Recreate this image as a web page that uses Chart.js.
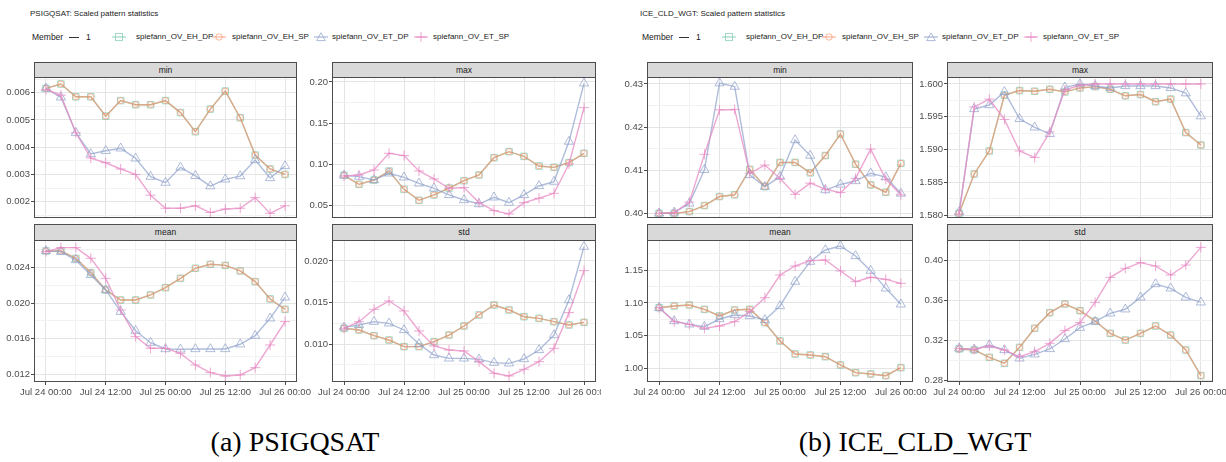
<!DOCTYPE html>
<html>
<head>
<meta charset="utf-8">
<script src="https://cdn.jsdelivr.net/npm/chart.js@4.4.1/dist/chart.umd.min.js"></script>
<style>
    body { margin: 0; background: #fff; width: 1226px; height: 462px; overflow: hidden; position: relative;
           font-family: 'Liberation Sans', Arial, sans-serif; }
    .panel { position: absolute; top: 0; height: 462px; overflow: hidden; }
    .txt { position: absolute; white-space: nowrap; color: #1a1a1a; }
    .strip { position: absolute; background: #d9d9d9; border: 1px solid #4d4d4d; box-sizing: border-box;
             font-size: 8.5px; color: #1a1a1a; text-align: center; }
    .caption { position: absolute; width: 400px; text-align: center; font-family: 'Liberation Serif', 'Times New Roman', serif;
               font-size: 28px; line-height: 28px; color: #000; }
    canvas { position: absolute; display: block; }
    svg { position: absolute; }
</style>
</head>
<body>
<div id="left" class="panel" style="left:0;width:601px"></div>
<div id="right" class="panel" style="left:604px;width:622px"></div>
<script>
// ===============================
// == DATA
// ===============================
const hours = [0, 3, 6, 9, 12, 15, 18, 21, 24, 27, 30, 33, 36, 39, 42, 45, 48];
const timeTicks = [0, 12, 24, 36, 48];
const timeLabels = ['Jul 24 00:00', 'Jul 24 12:00', 'Jul 25 00:00', 'Jul 25 12:00', 'Jul 26 00:00'];
const seriesNames = ['spiefann_OV_EH_DP', 'spiefann_OV_EH_SP', 'spiefann_OV_ET_DP', 'spiefann_OV_ET_SP'];

// PSIGQSAT (EH_DP and EH_SP coincide)
const psMinEH   = [0.00616, 0.00632, 0.00585, 0.00585, 0.00514, 0.00571, 0.00556, 0.00556, 0.00571, 0.00527, 0.00457, 0.00540, 0.00606, 0.00508, 0.00371, 0.00320, 0.00300];
const psMinETDP = [0.00616, 0.00583, 0.00453, 0.00375, 0.00387, 0.00396, 0.00359, 0.00292, 0.00270, 0.00326, 0.00295, 0.00257, 0.00282, 0.00294, 0.00353, 0.00287, 0.00331];
const psMinETSP = [0.00612, 0.00591, 0.00453, 0.00360, 0.00343, 0.00320, 0.00300, 0.00224, 0.00176, 0.00176, 0.00185, 0.00160, 0.00173, 0.00176, 0.00215, 0.00157, 0.00185];

const psMaxEH   = [0.0868, 0.0759, 0.0811, 0.0920, 0.0698, 0.0565, 0.0630, 0.0714, 0.0803, 0.0872, 0.1082, 0.1155, 0.1098, 0.0981, 0.0965, 0.1022, 0.1135];
const psMaxETDP = [0.0868, 0.0852, 0.0811, 0.0892, 0.0844, 0.0771, 0.0710, 0.0630, 0.0569, 0.0520, 0.0601, 0.0537, 0.0630, 0.0739, 0.0792, 0.1277, 0.1984];
const psMaxETSP = [0.0860, 0.0872, 0.0933, 0.1135, 0.1107, 0.0921, 0.0824, 0.0711, 0.0719, 0.0537, 0.0440, 0.0400, 0.0537, 0.0590, 0.0650, 0.1006, 0.1689];

const psMeanEH   = [0.02588, 0.02588, 0.02505, 0.02344, 0.02149, 0.02036, 0.02036, 0.02093, 0.02175, 0.02280, 0.02393, 0.02438, 0.02426, 0.02363, 0.02243, 0.02048, 0.01931];
const psMeanETDP = [0.02588, 0.02580, 0.02486, 0.02318, 0.02149, 0.01905, 0.01691, 0.01556, 0.01485, 0.01481, 0.01485, 0.01485, 0.01485, 0.01538, 0.01635, 0.01830, 0.02066];
const psMeanETSP = [0.02580, 0.02625, 0.02625, 0.02505, 0.02280, 0.01924, 0.01624, 0.01493, 0.01493, 0.01436, 0.01305, 0.01219, 0.01181, 0.01193, 0.01275, 0.01530, 0.01793];

const psStdEH   = [0.01189, 0.01169, 0.01100, 0.01048, 0.00968, 0.00968, 0.01028, 0.01108, 0.01217, 0.01350, 0.01470, 0.01410, 0.01329, 0.01309, 0.01269, 0.01229, 0.01261];
const psStdETDP = [0.01201, 0.01229, 0.01269, 0.01249, 0.01169, 0.01000, 0.00867, 0.00827, 0.00827, 0.00815, 0.00775, 0.00767, 0.00819, 0.00928, 0.01108, 0.01530, 0.02173];
const psStdETSP = [0.01189, 0.01269, 0.01418, 0.01518, 0.01398, 0.01157, 0.00976, 0.00928, 0.00916, 0.00787, 0.00647, 0.00615, 0.00695, 0.00787, 0.00948, 0.01378, 0.01884];

// ICE_CLD_WGT
const icMinEH   = [0.4000, 0.4000, 0.4004, 0.4018, 0.4039, 0.4043, 0.4102, 0.4062, 0.4118, 0.4118, 0.4094, 0.4134, 0.4184, 0.4114, 0.4066, 0.4049, 0.4116];
const icMinETDP = [0.4000, 0.4002, 0.4023, 0.4101, 0.4302, 0.4294, 0.4089, 0.4062, 0.4085, 0.4170, 0.4134, 0.4054, 0.4067, 0.4075, 0.4093, 0.4084, 0.4046];
const icMinETSP = [0.4000, 0.4002, 0.4026, 0.4137, 0.4240, 0.4241, 0.4093, 0.4112, 0.4081, 0.4044, 0.4070, 0.4056, 0.4048, 0.4081, 0.4149, 0.4079, 0.4043];

const icMaxEH   = [1.5803, 1.5863, 1.5898, 1.5983, 1.5990, 1.5989, 1.5992, 1.5988, 1.5994, 1.5996, 1.5992, 1.5982, 1.5984, 1.5973, 1.5977, 1.5926, 1.5907];
const icMaxETDP = [1.5805, 1.5962, 1.5968, 1.5988, 1.5947, 1.5934, 1.5924, 1.5995, 1.6000, 1.5997, 1.5994, 1.5997, 1.5997, 1.5997, 1.5994, 1.5986, 1.5951];
const icMaxETSP = [1.5802, 1.5965, 1.5977, 1.5946, 1.5898, 1.5888, 1.5927, 1.5991, 1.5998, 1.6000, 1.6000, 1.6000, 1.6000, 1.6000, 1.6000, 1.6000, 1.6000];

const icMeanEH   = [1.0927, 1.0953, 1.0968, 1.0902, 1.0801, 1.0892, 1.0902, 1.0699, 1.0421, 1.0223, 1.0208, 1.0182, 1.0056, 0.9939, 0.9919, 0.9893, 1.0015];
const icMeanETDP = [1.0927, 1.0725, 1.0674, 1.0638, 1.0755, 1.0816, 1.0801, 1.0740, 1.0953, 1.1323, 1.1627, 1.1804, 1.1865, 1.1713, 1.1490, 1.1221, 1.0978];
const icMeanETSP = [1.0927, 1.0714, 1.0674, 1.0613, 1.0649, 1.0714, 1.0867, 1.1079, 1.1424, 1.1561, 1.1642, 1.1652, 1.1485, 1.1323, 1.1389, 1.1358, 1.1297];

const icStdEH   = [0.3112, 0.3102, 0.3028, 0.2968, 0.3128, 0.3320, 0.3477, 0.3564, 0.3497, 0.3393, 0.3269, 0.3202, 0.3269, 0.3343, 0.3252, 0.3102, 0.2844];
const icStdETDP = [0.3118, 0.3108, 0.3152, 0.3102, 0.3018, 0.3058, 0.3112, 0.3212, 0.3326, 0.3387, 0.3470, 0.3511, 0.3631, 0.3765, 0.3722, 0.3631, 0.3581];
const icStdETSP = [0.3118, 0.3108, 0.3142, 0.3102, 0.3035, 0.3085, 0.3169, 0.3296, 0.3377, 0.3581, 0.3832, 0.3923, 0.3980, 0.3946, 0.3856, 0.3956, 0.4134];

// y tick labels per facet
const psMinTicks  = [0.002, 0.003, 0.004, 0.005, 0.006];
const psMaxTicks  = [0.05, 0.10, 0.15, 0.20];
const psMeanTicks = [0.012, 0.016, 0.020, 0.024];
const psStdTicks  = [0.010, 0.015, 0.020];
const icMinTicks  = [0.40, 0.41, 0.42, 0.43];
const icMaxTicks  = [1.580, 1.585, 1.590, 1.595, 1.600];
const icMeanTicks = [1.00, 1.05, 1.10, 1.15];
const icStdTicks  = [0.28, 0.32, 0.36, 0.40];

// ===============================
// == STYLE / LAYOUT
// ===============================
const COLORS = ['rgba(102,194,165,0.6)', 'rgba(252,141,98,0.62)', 'rgba(141,160,203,0.7)', 'rgba(231,138,195,0.75)'];
const SHAPES = ['rect', 'circle', 'triangle', 'cross'];
const RADII = [4.6, 3, 5.3, 5];
const TICK_FONT = { family: 'Liberation Sans', size: 9.5 };
const ROWS = [{ stripTop: 62, top: 77, bottom: 218 }, { stripTop: 224, top: 240, bottom: 382 }];
const Y_AXIS_W = 40, PAD_R = 24;

const panels = [
    {
        el: 'left', x0: 0, legendX: 0,
        title: 'PSIGQSAT: Scaled pattern statistics', caption: '(a) PSIGQSAT', capX: 295,
        facets: [
            { name: 'min',  L: 34,  R: 297, row: 0, yMin: 0.001402, yMax: 0.006576, ticks: psMinTicks,  dec: 3, data: [psMinEH, psMinEH, psMinETDP, psMinETSP] },
            { name: 'max',  L: 332, R: 596, row: 0, yMin: 0.03504,  yMax: 0.20606,  ticks: psMaxTicks,  dec: 2, data: [psMaxEH, psMaxEH, psMaxETDP, psMaxETSP] },
            { name: 'mean', L: 34,  R: 297, row: 1, yMin: 0.011137, yMax: 0.027112, ticks: psMeanTicks, dec: 3, data: [psMeanEH, psMeanEH, psMeanETDP, psMeanETSP] },
            { name: 'std',  L: 332, R: 596, row: 1, yMin: 0.005422, yMax: 0.02253,  ticks: psStdTicks,  dec: 3, data: [psStdEH, psStdEH, psStdETDP, psStdETSP] }
        ]
    },
    {
        el: 'right', x0: 604, legendX: 610,
        title: 'ICE_CLD_WGT: Scaled pattern statistics', caption: '(b) ICE_CLD_WGT', capX: 915,
        facets: [
            { name: 'min',  L: 647, R: 913,  row: 0, yMin: 0.39892,  yMax: 0.43162,  ticks: icMinTicks,  dec: 2, data: [icMinEH, icMinEH, icMinETDP, icMinETSP] },
            { name: 'max',  L: 947, R: 1213, row: 0, yMin: 1.579593, yMax: 1.601066, ticks: icMaxTicks,  dec: 3, data: [icMaxEH, icMaxEH, icMaxETDP, icMaxETSP] },
            { name: 'mean', L: 647, R: 913,  row: 1, yMin: 0.97973,  yMax: 1.19561,  ticks: icMeanTicks, dec: 2, data: [icMeanEH, icMeanEH, icMeanETDP, icMeanETSP] },
            { name: 'std',  L: 947, R: 1213, row: 1, yMin: 0.27799,  yMax: 0.42078,  ticks: icStdTicks,  dec: 2, data: [icStdEH, icStdEH, icStdETDP, icStdETSP] }
        ]
    }
];

// ===============================
// == HELPERS
// ===============================
function addText(parent, text, x, yMid, size, cls) {
    const d = document.createElement('div');
    d.className = cls || 'txt';
    d.textContent = text;
    d.style.left = x + 'px';
    d.style.top = (yMid - size * 0.6) + 'px';
    d.style.fontSize = size + 'px';
    d.style.lineHeight = (size * 1.2) + 'px';
    parent.appendChild(d);
    return d;
}

function keySvg(i) {
    const c = COLORS[i];
    let mark = '';
    if (i === 0) mark = `<rect x="3.5" y="1.5" width="7" height="7" fill="none" stroke="${c}"/>`;
    if (i === 1) mark = `<circle cx="7" cy="5" r="3.2" fill="none" stroke="${c}"/>`;
    if (i === 2) mark = `<polygon points="7,0.8 11.3,8.6 2.7,8.6" fill="none" stroke="${c}"/>`;
    if (i === 3) mark = `<path d="M2 5 H12 M7 0 V10" stroke="${c}"/>`;
    return `<svg width="14" height="10" viewBox="0 0 14 10"><line x1="0" y1="5" x2="14" y2="5" stroke="${c}" stroke-width="1.3"/>${mark}</svg>`;
}

function minorsOf(majors, lo, hi) {
    const step = majors[1] - majors[0];
    const out = [];
    for (let v = majors[0] - step / 2; v <= hi + 1e-12; v += step) {
        if (v >= lo - 1e-12) out.push(+v.toFixed(6));
    }
    return out;
}

const panelBorder = {
    id: 'panelBorder',
    afterDatasetsDraw(chart) {
        const a = chart.chartArea, ctx = chart.ctx;
        ctx.save();
        ctx.strokeStyle = '#4d4d4d';
        ctx.lineWidth = 1;
        ctx.strokeRect(Math.round(a.left) + 0.5, Math.round(a.top) + 0.5,
                       Math.round(a.right - a.left) - 1, Math.round(a.bottom - a.top) - 1);
        ctx.restore();
    }
};

// ===============================
// == FACET
// ===============================
function drawFacet(panel, parent, f) {
    const row = ROWS[f.row];
    const showX = f.row === 1;

    // strip
    const s = document.createElement('div');
    s.className = 'strip';
    s.style.left = (f.L - panel.x0) + 'px';
    s.style.top = row.stripTop + 'px';
    s.style.width = (f.R - f.L) + 'px';
    s.style.height = (row.top - row.stripTop + 1) + 'px';
    s.style.lineHeight = (row.top - row.stripTop - 1) + 'px';
    s.textContent = f.name;
    parent.appendChild(s);

    // canvas
    const padTop = 10, padBottom = showX ? 0 : 10, xAxisH = showX ? 20 : 0;
    const w = (f.R - f.L) + Y_AXIS_W + PAD_R;
    const h = (row.bottom - row.top) + padTop + padBottom + xAxisH;
    const cv = document.createElement('canvas');
    cv.width = w; cv.height = h;
    cv.style.width = w + 'px'; cv.style.height = h + 'px';
    cv.style.left = (f.L - Y_AXIS_W - panel.x0) + 'px';
    cv.style.top = (row.top - padTop) + 'px';
    parent.appendChild(cv);

    const yMinor = minorsOf(f.ticks, f.yMin, f.yMax);
    const yAll = f.ticks.concat(yMinor).sort((a, b) => a - b);
    const isMajorY = v => f.ticks.some(t => Math.abs(t - v) < 1e-9);
    const xAll = [0, 6, 12, 18, 24, 30, 36, 42, 48];

    const datasets = f.data.map((arr, i) => ({
        label: seriesNames[i],
        data: hours.map((hr, k) => ({ x: hr, y: arr[k] })),
        borderColor: COLORS[i],
        borderWidth: 1.4,
        pointStyle: SHAPES[i],
        pointRadius: RADII[i],
        pointBorderColor: COLORS[i],
        pointBackgroundColor: 'rgba(0,0,0,0)',
        pointBorderWidth: 1,
        fill: false,
        tension: 0,
        order: 4 - i
    }));

    new Chart(cv.getContext('2d'), {
        type: 'line',
        data: { datasets },
        options: {
            responsive: false,
            animation: false,
            devicePixelRatio: 1,
            events: [],
            layout: { padding: { top: padTop, right: PAD_R, bottom: padBottom, left: 0 } },
            plugins: { legend: { display: false }, tooltip: { enabled: false } },
            scales: {
                x: {
                    type: 'linear', min: -2.4, max: 50.4, bounds: 'data',
                    afterBuildTicks: sc => { sc.ticks = xAll.map(v => ({ value: v })); },
                    afterFit: sc => { sc.height = xAxisH; },
                    ticks: {
                        display: showX, autoSkip: false, maxRotation: 0, padding: 2,
                        font: TICK_FONT, color: '#4d4d4d',
                        callback: v => { const i = timeTicks.indexOf(v); return i >= 0 ? timeLabels[i] : ''; }
                    },
                    grid: {
                        drawTicks: showX, tickLength: 3,
                        color: c => (c.tick && c.tick.value % 12 === 0) ? '#e4e4e4' : '#f2f2f2',
                        tickColor: c => (c.tick && c.tick.value % 12 === 0) ? '#4d4d4d' : 'rgba(0,0,0,0)'
                    },
                    border: { display: false }
                },
                y: {
                    type: 'linear', min: f.yMin, max: f.yMax, bounds: 'data',
                    afterBuildTicks: sc => { sc.ticks = yAll.map(v => ({ value: v })); },
                    afterFit: sc => { sc.width = Y_AXIS_W; },
                    ticks: {
                        autoSkip: false, padding: 1, font: TICK_FONT, color: '#4d4d4d',
                        callback: v => isMajorY(v) ? v.toFixed(f.dec) : ''
                    },
                    grid: {
                        tickLength: 3,
                        color: c => (c.tick && isMajorY(c.tick.value)) ? '#e4e4e4' : '#f2f2f2',
                        tickColor: c => (c.tick && isMajorY(c.tick.value)) ? '#4d4d4d' : 'rgba(0,0,0,0)'
                    },
                    border: { display: false }
                }
            }
        },
        plugins: [panelBorder]
    });
}

// ===============================
// == PANELS
// ===============================
panels.forEach(p => {
    const parent = document.getElementById(p.el);
    const off = p.legendX - p.x0;

    addText(parent, p.title, 30 + off, 14, 8);

    // legend
    addText(parent, 'Member', 32 + off, 37, 8.5);
    const dash = document.createElement('div');
    dash.style.cssText = `position:absolute;left:${69 + off}px;top:36.5px;width:10px;height:1.3px;background:#333`;
    parent.appendChild(dash);
    addText(parent, '1', 86 + off, 37, 8.5);
    const keyX = [119, 219, 321, 421];
    const txtX = [136, 232, 332, 433];
    seriesNames.forEach((nm, i) => {
        const holder = document.createElement('div');
        holder.innerHTML = keySvg(i);
        const svg = holder.firstChild;
        svg.style.left = (keyX[i] - 7 + off) + 'px';
        svg.style.top = '32px';
        parent.appendChild(svg);
        addText(parent, nm, txtX[i] + off, 37, 8);
    });

    p.facets.forEach(f => drawFacet(p, parent, f));

    const cap = document.createElement('div');
    cap.className = 'caption';
    cap.textContent = p.caption;
    cap.style.left = (p.capX - 200 - p.x0) + 'px';
    cap.style.top = '428px';
    parent.appendChild(cap);
});
</script>
</body>
</html>
